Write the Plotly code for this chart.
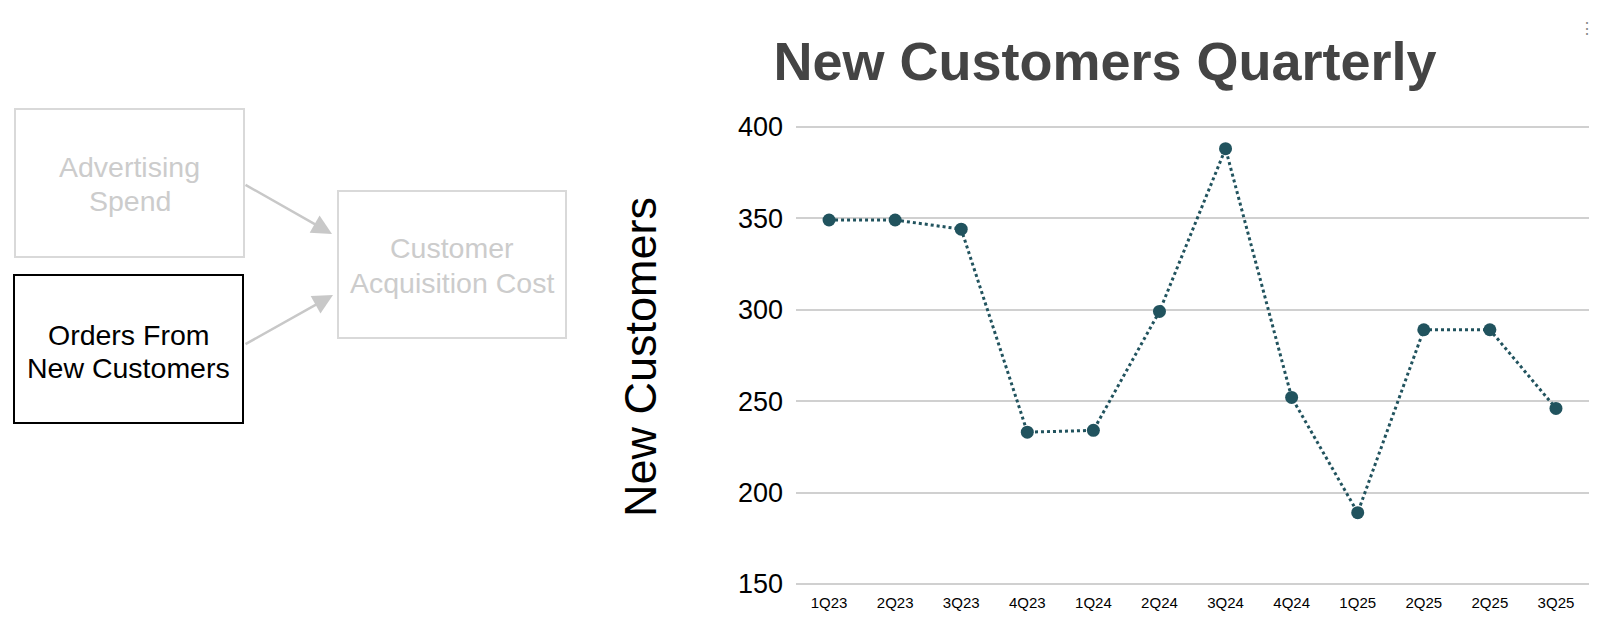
import plotly.graph_objects as go

W, H = 1598, 640

quarters = ["1Q23", "2Q23", "3Q23", "4Q23", "1Q24", "2Q24", "3Q24", "4Q24",
            "1Q25", "2Q25", "2Q25", "3Q25"]
new_customers = [349, 349, 344, 233, 234, 299, 388, 252, 189, 289, 289, 246]
y_ticks = [150, 200, 250, 300, 350, 400]

box_ad_lines = ["Advertising", "Spend"]
box_orders_lines = ["Orders From", "New Customers"]
box_cac_lines = ["Customer", "Acquisition Cost"]

positions = list(range(len(quarters)))

LINE_COLOR = "#21535E"
LIGHT = "#cccccc"
FONT = "Liberation Sans, Arial, Helvetica, sans-serif"
BOX_FONT = 28.5


def px(x):
    return x / W


def py(y):
    return 1 - y / H


fig = go.Figure()
fig.add_trace(go.Scatter(
    x=positions, y=new_customers, mode="lines+markers",
    line=dict(color=LINE_COLOR, width=3, dash="dot"),
    marker=dict(color=LINE_COLOR, size=13),
    showlegend=False, hoverinfo="skip",
))

shapes = [
    dict(type="rect", xref="paper", yref="paper",
         x0=px(15), x1=px(244), y0=py(257), y1=py(109),
         line=dict(color="#d9d9d9", width=2)),
    dict(type="rect", xref="paper", yref="paper",
         x0=px(14), x1=px(243), y0=py(423), y1=py(275),
         line=dict(color="#000000", width=2)),
    dict(type="rect", xref="paper", yref="paper",
         x0=px(338), x1=px(566), y0=py(338), y1=py(191),
         line=dict(color="#d9d9d9", width=2)),
]


def box_text(lines, cx, ys, color):
    out = []
    for t, yy in zip(lines, ys):
        out.append(dict(text=t, x=px(cx), y=py(yy), xref="paper", yref="paper",
                        showarrow=False, xanchor="center", yanchor="middle",
                        font=dict(family=FONT, size=BOX_FONT, color=color)))
    return out


annotations = []
annotations += box_text(box_ad_lines, 129.5, [167, 201], LIGHT)
annotations += box_text(box_orders_lines, 128.5, [335, 368], "#000000")
annotations += box_text(box_cac_lines, 452, [248, 283], LIGHT)
annotations += [
    dict(text="", x=px(332), y=py(234), xref="paper", yref="paper",
         showarrow=True, ax=-88, ay=-50, arrowhead=2, arrowsize=1.6, arrowwidth=2.5,
         arrowcolor="#c8c8c8"),
    dict(text="", x=px(333), y=py(295), xref="paper", yref="paper",
         showarrow=True, ax=-89, ay=50, arrowhead=2, arrowsize=1.6, arrowwidth=2.5,
         arrowcolor="#c8c8c8"),
    dict(text="New Customers", x=px(640), y=py(357), xref="paper", yref="paper",
         showarrow=False, textangle=-90, xanchor="center", yanchor="middle",
         font=dict(family=FONT, size=45, color="#000000")),
    dict(text="⋮", x=px(1596), y=py(29), xref="paper", yref="paper",
         showarrow=False, xanchor="right", yanchor="middle", borderpad=0,
         font=dict(family=FONT, size=16, color="#888888")),
]

fig.update_layout(
    width=W, height=H,
    margin=dict(l=0, r=0, t=0, b=0),
    paper_bgcolor="white", plot_bgcolor="white",
    title=dict(text="<b>New Customers Quarterly</b>", x=px(1105), xanchor="center",
               y=py(61), yanchor="middle", yref="container", xref="paper",
               font=dict(family=FONT, size=54, color="#444444")),
    xaxis=dict(domain=[px(796), px(1589)], range=[-0.5, len(quarters) - 0.5],
               tickmode="array", tickvals=positions, ticktext=quarters,
               showgrid=False, zeroline=False, showline=False, ticks="",
               tickfont=dict(family=FONT, size=15, color="#000000"),
               ticklabelstandoff=6, automargin=False, fixedrange=True),
    yaxis=dict(domain=[py(585.8), py(124.9)], range=[149, 401],
               tickmode="array", tickvals=y_ticks,
               showgrid=True, gridcolor="#d0d0d0", gridwidth=1.5,
               zeroline=False, showline=False, ticks="",
               tickfont=dict(family=FONT, size=27, color="#000000"),
               ticklabelstandoff=12, automargin=False, fixedrange=True),
    shapes=shapes,
    annotations=annotations,
)

fig.write_html(
    "out.html",
    config={"displayModeBar": False},
    post_script="document.body.style.margin='0';document.body.style.overflow='hidden';",
)
